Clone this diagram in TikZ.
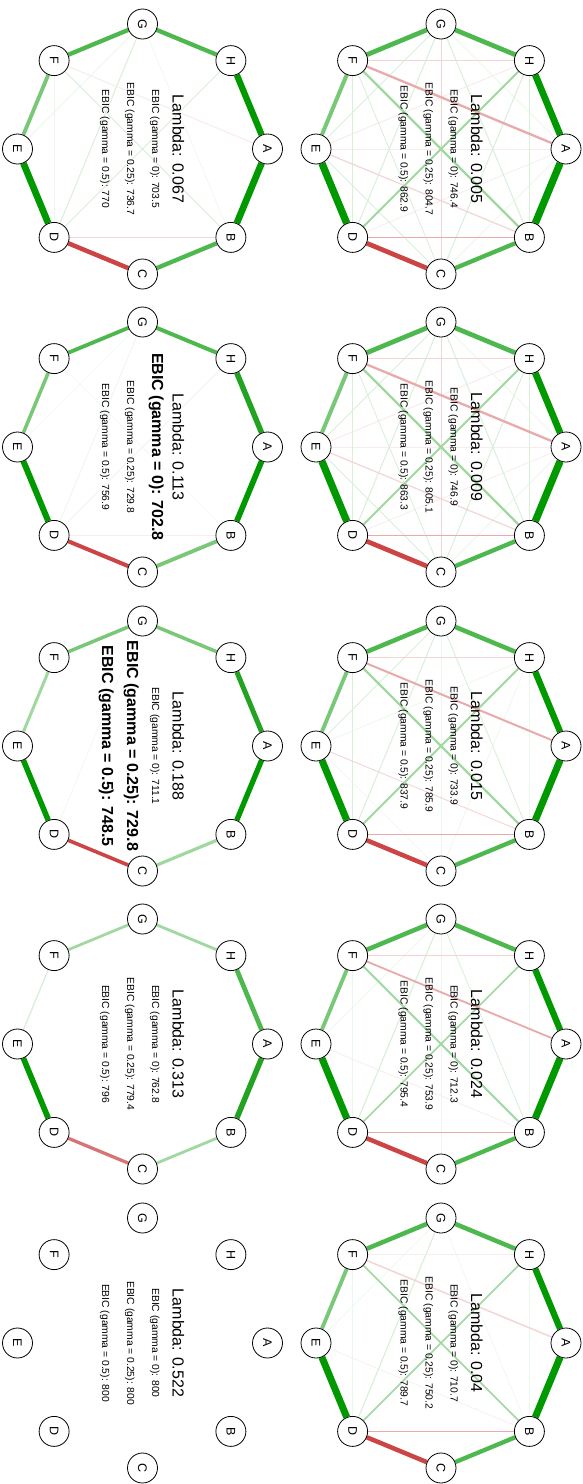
\documentclass[tikz,border=0pt]{standalone}
\usepackage{fontspec}
\setmainfont{Liberation Sans}
\usetikzlibrary{backgrounds}
\definecolor{ga}{HTML}{009900}
\definecolor{gb}{HTML}{22A322}
\definecolor{gc}{HTML}{4DB84D}
\definecolor{gd}{HTML}{78C878}
\definecolor{ge}{HTML}{A0D8A0}
\definecolor{gf}{HTML}{D8EFD8}
\definecolor{gg}{HTML}{ECF7EC}
\definecolor{ra}{HTML}{CC4444}
\definecolor{rb}{HTML}{D87474}
\definecolor{rc}{HTML}{E8AAAA}
\definecolor{rd}{HTML}{F3D5D5}
\definecolor{re}{HTML}{F9ECEC}
\tikzset{
 vtx/.style={circle,draw=black,line width=0.8pt,fill=white,minimum size=30pt,inner sep=0pt,font=\fontsize{12.5}{12.5}\selectfont,rotate=-90},
 lam/.style={rotate=-90,anchor=base,inner sep=0pt,font=\fontsize{16}{16}\selectfont},
 eb/.style={rotate=-90,anchor=base,inner sep=0pt,font=\fontsize{10.3}{10.3}\selectfont},
 ebb/.style={rotate=-90,anchor=base,inner sep=0pt,font=\fontsize{16}{16}\selectfont\bfseries},
}
\newcommand\mkpanel[3]{%
 \begin{scope}[shift={(#2,#3)}]
 \foreach \n/\a in {A/0,H/-45,G/-90,F/-135,E/180,D/135,C/90,B/45}
   {\node[vtx] (#1\n) at (\a:125) {\n};}
 \end{scope}}
\newcommand\edges[2]{\foreach \u/\v/\c/\w in {#2}{\draw[color=\c,line width=\w pt] (#1\u) -- (#1\v);}}
\begin{document}
\begin{tikzpicture}[x=1pt,y=-1pt]
\useasboundingbox (0,0) rectangle (583,1484);
\mkpanel{p1}{441}{149}
\mkpanel{p2}{441}{447}
\mkpanel{p3}{441}{746}
\mkpanel{p4}{441}{1044}
\mkpanel{p5}{441}{1343}
\mkpanel{p6}{142.5}{149}
\mkpanel{p7}{142.5}{447}
\mkpanel{p8}{142.5}{746}
\mkpanel{p9}{142.5}{1044}
\mkpanel{p10}{142.5}{1343}
% texts
\begin{scope}[shift={(441,149)}]
\node[lam] (p1t0) at (30,0) {Lambda: 0.005};
\node[eb] (p1t1) at (9.5,0) {EBIC (gamma = 0): 746.4};
\node[eb] (p1t2) at (-15.5,0) {EBIC (gamma = 0.25): 804.7};
\node[eb] (p1t3) at (-40.5,0) {EBIC (gamma = 0.5): 862.9};
\end{scope}
\begin{scope}[shift={(441,447)}]
\node[lam] (p2t0) at (30,0) {Lambda: 0.009};
\node[eb] (p2t1) at (9.5,0) {EBIC (gamma = 0): 746.9};
\node[eb] (p2t2) at (-15.5,0) {EBIC (gamma = 0.25): 805.1};
\node[eb] (p2t3) at (-40.5,0) {EBIC (gamma = 0.5): 863.3};
\end{scope}
\begin{scope}[shift={(441,746)}]
\node[lam] (p3t0) at (30,0) {Lambda: 0.015};
\node[eb] (p3t1) at (9.5,0) {EBIC (gamma = 0): 733.9};
\node[eb] (p3t2) at (-15.5,0) {EBIC (gamma = 0.25): 785.9};
\node[eb] (p3t3) at (-40.5,0) {EBIC (gamma = 0.5): 837.9};
\end{scope}
\begin{scope}[shift={(441,1044)}]
\node[lam] (p4t0) at (30,0) {Lambda: 0.024};
\node[eb] (p4t1) at (9.5,0) {EBIC (gamma = 0): 712.3};
\node[eb] (p4t2) at (-15.5,0) {EBIC (gamma = 0.25): 753.9};
\node[eb] (p4t3) at (-40.5,0) {EBIC (gamma = 0.5): 795.4};
\end{scope}
\begin{scope}[shift={(441,1343)}]
\node[lam] (p5t0) at (30,0) {Lambda: 0.04};
\node[eb] (p5t1) at (9.5,0) {EBIC (gamma = 0): 710.7};
\node[eb] (p5t2) at (-15.5,0) {EBIC (gamma = 0.25): 750.2};
\node[eb] (p5t3) at (-40.5,0) {EBIC (gamma = 0.5): 789.7};
\end{scope}
\begin{scope}[shift={(142.5,149)}]
\node[lam] (p6t0) at (30,0) {Lambda: 0.067};
\node[eb] (p6t1) at (9.5,0) {EBIC (gamma = 0): 703.5};
\node[eb] (p6t2) at (-15.5,0) {EBIC (gamma = 0.25): 736.7};
\node[eb] (p6t3) at (-40.5,0) {EBIC (gamma = 0.5): 770};
\end{scope}
\begin{scope}[shift={(142.5,447)}]
\node[lam] (p7t0) at (30,0) {Lambda: 0.113};
\node[ebb] (p7t1) at (9.5,0) {EBIC (gamma = 0): 702.8};
\node[eb] (p7t2) at (-15.5,0) {EBIC (gamma = 0.25): 729.8};
\node[eb] (p7t3) at (-40.5,0) {EBIC (gamma = 0.5): 756.9};
\end{scope}
\begin{scope}[shift={(142.5,746)}]
\node[lam] (p8t0) at (30,0) {Lambda: 0.188};
\node[eb] (p8t1) at (9.5,0) {EBIC (gamma = 0): 711.1};
\node[ebb] (p8t2) at (-15.5,0) {EBIC (gamma = 0.25): 729.8};
\node[ebb] (p8t3) at (-40.5,0) {EBIC (gamma = 0.5): 748.5};
\end{scope}
\begin{scope}[shift={(142.5,1044)}]
\node[lam] (p9t0) at (30,0) {Lambda: 0.313};
\node[eb] (p9t1) at (9.5,0) {EBIC (gamma = 0): 762.8};
\node[eb] (p9t2) at (-15.5,0) {EBIC (gamma = 0.25): 779.4};
\node[eb] (p9t3) at (-40.5,0) {EBIC (gamma = 0.5): 796};
\end{scope}
\begin{scope}[shift={(142.5,1343)}]
\node[lam] (p10t0) at (30,0) {Lambda: 0.522};
\node[eb] (p10t1) at (9.5,0) {EBIC (gamma = 0): 800};
\node[eb] (p10t2) at (-15.5,0) {EBIC (gamma = 0.25): 800};
\node[eb] (p10t3) at (-40.5,0) {EBIC (gamma = 0.5): 800};
\end{scope}
\begin{pgfonlayer}{background}
\fill[white] (0,0) rectangle (583,1484);
\edges{p1}{G/A/gg/0.8,A/D/re/0.8,A/C/gg/0.8,H/E/re/1,E/A/re/1,G/D/gf/1,G/E/gf/1,G/B/gf/1,H/C/gf/1,F/C/gf/0.8,E/C/gf/1,F/D/gf/1,H/B/gf/1,F/H/rd/1.3,E/B/rd/1.2,G/C/rd/1,D/B/rc/1.7,H/D/ge/2,F/B/ge/2.3,F/A/rc/2.3,G/H/gc/4.7,H/A/ga/6.7,A/B/ga/7.3,B/C/gc/4.3,C/D/ra/4.7,D/E/ga/7.3,E/F/gd/4,F/G/gc/4.7}
\edges{p2}{G/A/gg/0.8,A/D/re/0.8,A/C/gg/0.8,H/E/re/1,E/A/re/0.9,G/D/gf/1,G/E/gf/1,G/B/gf/1,H/C/gf/1,F/C/gf/0.8,E/C/gf/0.9,F/D/gf/1,H/B/gf/1,F/H/rd/1.3,E/B/rd/1.2,G/C/rd/1,D/B/rc/1.7,H/D/ge/2,F/B/ge/2.3,F/A/rc/2.3,G/H/gc/4.7,H/A/ga/6.7,A/B/ga/7.3,B/C/gc/4.3,C/D/ra/4.7,D/E/ga/7.3,E/F/gd/4,F/G/gc/4.7}
\edges{p3}{G/C/gg/0.8,G/D/gf/1,G/E/gf/0.9,G/B/gf/0.9,H/B/gg/0.8,F/D/gf/0.9,H/C/gg/0.7,H/E/gg/0.7,E/C/gg/0.6,F/H/rd/1.2,E/B/rd/0.9,D/B/rc/1.7,H/D/ge/1.8,F/B/ge/2.2,F/A/rc/2,G/H/gc/4.5,H/A/ga/6.3,A/B/ga/7,B/C/gc/4.3,C/D/ra/4.5,D/E/ga/7,E/F/gd/3.8,F/G/gc/4.5}
\edges{p4}{G/C/gg/0.6,G/E/gg/0.7,F/D/gg/0.8,H/B/gg/0.7,G/B/gf/0.8,G/D/gf/1.1,E/B/re/0.8,F/H/rd/1.1,D/B/rc/1.6,H/D/ge/1.7,F/B/ge/2,F/A/rc/1.8,G/H/gc/4.5,H/A/ga/6.3,A/B/ga/7,B/C/gc/4.3,C/D/ra/4.5,D/E/ga/7,E/F/gd/3.8,F/G/gc/4.5}
\edges{p5}{G/E/gg/0.7,F/D/gg/0.7,G/B/gg/0.6,H/B/gg/0.6,G/D/gf/1.1,E/B/re/0.6,F/H/re/0.8,D/B/rc/1.5,H/D/ge/1.5,F/B/ge/1.6,F/A/rd/1.5,G/H/gc/4.5,H/A/ga/6.3,A/B/ga/7,B/C/gc/4.3,C/D/ra/4.5,D/E/ga/7,E/F/gd/3.8,F/G/gc/4.5}
\edges{p6}{G/E/gg/0.8,G/B/gg/0.6,F/D/gg/0.6,G/D/gf/1,F/B/gf/1,H/D/gf/1,F/A/re/1,D/B/rd/1,G/H/gc/4.3,H/A/ga/6.3,A/B/ga/6.7,B/C/gc/4.3,C/D/ra/4.5,D/E/ga/6.7,E/F/gd/3.8,F/G/gc/4.3}
\edges{p7}{G/D/gg/0.8,H/D/gg/0.8,G/E/gg/0.6,F/B/gg/0.5,D/B/re/0.8,G/H/gc/4,H/A/gb/5.5,A/B/ga/5.7,B/C/gd/3.8,C/D/ra/4,D/E/ga/6,E/F/gd/3.5,F/G/gc/3.8}
\edges{p8}{G/D/gg/0.6,G/H/gd/3.5,H/A/gb/5,A/B/ga/5.3,B/C/ge/3.2,C/D/ra/3.6,D/E/ga/5.5,E/F/ge/3,F/G/gd/3.5}
\edges{p9}{G/H/ge/2.8,H/A/gc/4.7,A/B/gb/5.5,B/C/ge/2.8,C/D/rb/3.3,D/E/ga/5.7,E/F/gf/1.3,F/G/ge/2.7}
\end{pgfonlayer}
\end{tikzpicture}
\end{document}
